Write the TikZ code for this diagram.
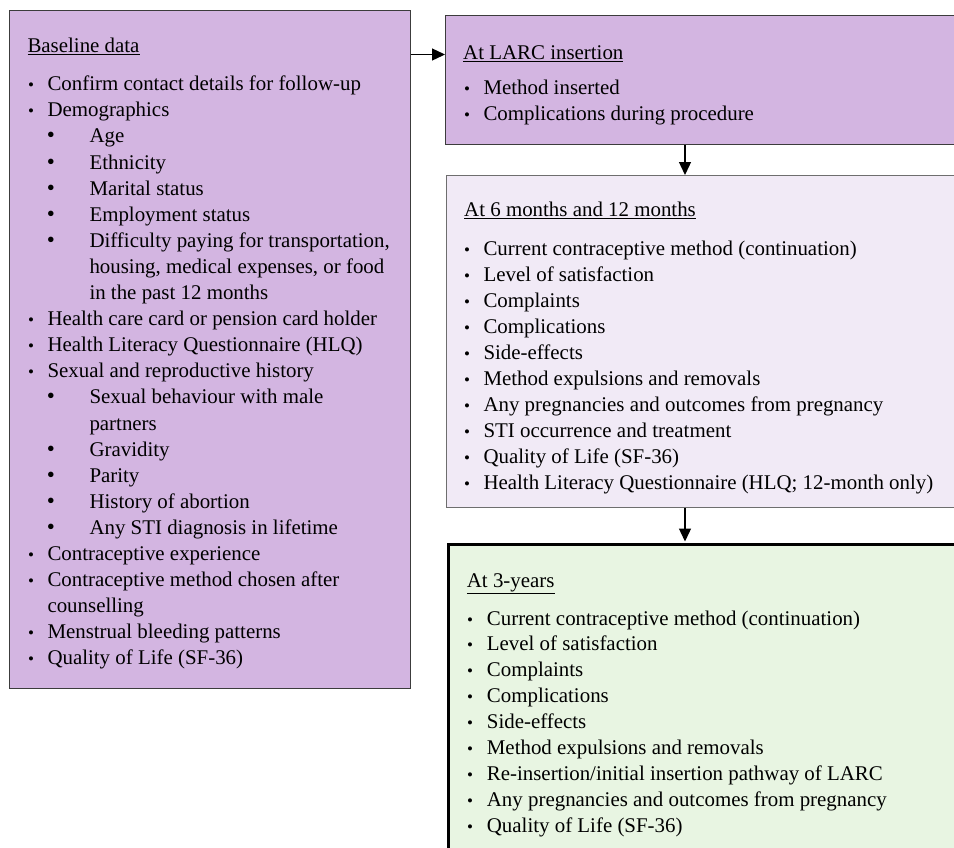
\documentclass[tikz,border=0pt]{standalone}
\usepackage{fontspec}
\setmainfont{Liberation Serif}
\usepackage{tikz}
\usetikzlibrary{calc}
\usetikzlibrary{arrows.meta}
\definecolor{lilac}{RGB}{211,181,225}
\definecolor{palelilac}{RGB}{241,234,246}
\definecolor{palegreen}{RGB}{232,245,226}
\definecolor{edgegray}{RGB}{60,60,60}
\definecolor{midgray}{RGB}{110,110,110}
\tikzset{
  boxp/.style={draw=edgegray, line width=1.3pt, fill=lilac, anchor=north west, inner sep=0},
  boxl/.style={draw=midgray, line width=1.3pt, fill=palelilac, anchor=north west, inner sep=0},
  boxg/.style={draw=black, line width=3pt, fill=palegreen, anchor=north west, inner sep=0},
  head/.style={anchor=base west, inner sep=0, font=\fontsize{20.9}{25}\selectfont},
  itm/.style={anchor=base west, inner sep=0, font=\fontsize{20.9}{25}\selectfont},
  dota/.style={anchor=base, inner sep=0, font=\fontsize{17}{17}\selectfont},
  dotb/.style={anchor=base, inner sep=0, font=\fontsize{23}{23}\selectfont},
  arr/.style={black, line width=1.3pt, -{Triangle[length=13pt,width=12pt]}}
}

\begin{document}
\begin{tikzpicture}[x=1pt, y=-1pt]
\useasboundingbox (0,0) rectangle (954,847);
\node[boxp, minimum width=401pt, minimum height=678pt] (base) at (9,10) {};
\node[boxp, minimum width=520pt, minimum height=129pt] (larc) at (445,15) {};
\node[boxl, minimum width=520pt, minimum height=332pt] (mid) at (446,175) {};
\node[boxg, minimum width=520pt, minimum height=330pt] (three) at (447,543) {};
\coordinate (ax) at (685,0);
\draw[arr] ([yshift=-39.5pt]larc.north west -| base.east) -- ([yshift=-39.5pt]larc.north west);
\draw[arr] (larc.south -| ax) -- (mid.north -| ax);
\draw[arr] (mid.south -| ax) -- ([yshift=1.5pt]three.north -| ax);

\node[head] (bhead) at (27.3,52.7) {\underline{Baseline data}};
\foreach \k/\t [count=\i] in {1/Confirm contact details for follow-up, 1/Demographics, 2/Age, 2/Ethnicity,
  2/Marital status, 2/Employment status, 2/{Difficulty paying for transportation,},
  3/{housing, medical expenses, or food}, 3/in the past 12 months, 1/Health care card or pension card holder,
  1/Health Literacy Questionnaire (HLQ), 1/Sexual and reproductive history, 2/Sexual behaviour with male,
  3/partners, 2/Gravidity, 2/Parity, 2/History of abortion, 2/Any STI diagnosis in lifetime,
  1/Contraceptive experience, 1/Contraceptive method chosen after, 4/counselling,
  1/Menstrual bleeding patterns, 1/Quality of Life (SF-36)} {
  \pgfmathsetmacro{\y}{90.7+26.1*(\i-1)}
  \ifcase\k\or
    \node[dota] (bd\i) at (31,\y) {\textbullet}; \node[itm] (bt\i) at (47.3,\y) {\t};
  \or
    \node[dotb] (bd\i) at (51,\y) {\textbullet}; \node[itm] (bt\i) at (89.3,\y) {\t};
  \or
    \node[itm] (bt\i) at (89.3,\y) {\t};
  \or
    \node[itm] (bt\i) at (47.3,\y) {\t};
  \fi
}

\node[head] (lhead) at (463,59.5) {\underline{At LARC insertion}};
\foreach \t [count=\i] in {Method inserted, Complications during procedure} {
  \pgfmathsetmacro{\y}{94.3+25.7*(\i-1)}
  \node[dota] (ld\i) at (467,\y) {\textbullet};
  \node[itm] (lt\i) at (483.3,\y) {\t};
}

\node[head] (mhead) at (464,216.7) {\underline{At 6 months and 12 months}};
\foreach \t [count=\i] in {Current contraceptive method (continuation), Level of satisfaction, Complaints,
  Complications, Side-effects, Method expulsions and removals, Any pregnancies and outcomes from pregnancy,
  STI occurrence and treatment, Quality of Life (SF-36), Health Literacy Questionnaire (HLQ; 12-month only)} {
  \pgfmathsetmacro{\y}{255+26*(\i-1)}
  \node[dota] (md\i) at (467,\y) {\textbullet};
  \node[itm] (mt\i) at (483.3,\y) {\t};
}

\node[head] (thead) at (466.7,587.3) {\underline{At 3-years}};
\foreach \t [count=\i] in {Current contraceptive method (continuation), Level of satisfaction, Complaints,
  Complications, Side-effects, Method expulsions and removals, Re-insertion/initial insertion pathway of LARC,
  Any pregnancies and outcomes from pregnancy, Quality of Life (SF-36)} {
  \pgfmathsetmacro{\y}{625+25.96*(\i-1)}
  \node[dota] (td\i) at (470,\y) {\textbullet};
  \node[itm] (tt\i) at (486.7,\y) {\t};
}
\end{tikzpicture}
\end{document}
